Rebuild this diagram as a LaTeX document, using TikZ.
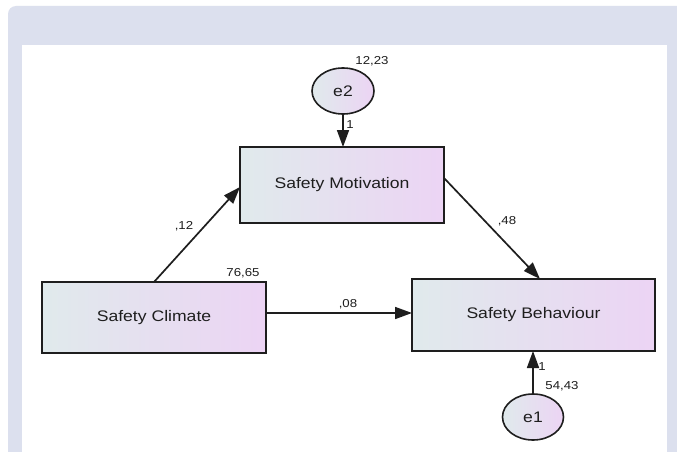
\documentclass[tikz,border=0pt]{standalone}
\usepackage{fontspec}
\setmainfont{Liberation Sans}[FakeStretch=1.15]
\usetikzlibrary{arrows.meta,shapes.geometric}
\definecolor{bgl}{RGB}{220,224,238}
\definecolor{gl}{RGB}{224,234,236}
\definecolor{gr}{RGB}{236,212,244}
\definecolor{ink}{RGB}{30,30,30}
\tikzset{
  box/.style={draw=ink, line width=1.6pt, shading angle=-60, left color=gl, right color=gr, inner sep=0pt, outer sep=0pt,
    font=\fontsize{15.3}{17}\selectfont, text=ink},
  err/.style={ellipse, draw=ink, line width=1.6pt, left color=gl, right color=gr, inner sep=0pt, outer sep=0pt,
    minimum width=62pt, minimum height=46pt, font=\fontsize{15.3}{17}\selectfont, text=ink},
  arr/.style={draw=ink, line width=1.7pt, -{Triangle[length=17pt,width=12pt]}},
  lab/.style={font=\fontsize{11.5}{13}\selectfont, text=ink, inner sep=0pt}
}
\begin{document}
\begin{tikzpicture}[x=1pt,y=-1pt]
\useasboundingbox (0,0) rectangle (677,452);
\fill[white] (0,0) rectangle (677,452);
\fill[bgl, rounded corners=8pt] (8,6) rectangle (700,470);
\fill[white] (22,45) rectangle (667,452);

\node[box, minimum width=204pt, minimum height=76pt] (SM) at (342,185) {Safety Motivation};
\node[box, minimum width=224pt, minimum height=71pt] (SC) at (154,317.5) {Safety Climate};
\node[box, minimum width=243pt, minimum height=72pt] (SB) at (533.5,315) {Safety Behaviour};
\node[err] (e2) at (343,91) {e2};
\node[err, minimum width=61pt] (e1) at (533,417) {e1};

\draw[arr] (e2.south) -- (e2.south |- SM.north);
\draw[arr] (e1.north) -- (e1.north |- SB.south);
\draw[arr] (SC.east |- 0,313) -- (SB.west |- 0,313);
\draw[arr] (SC.north) -- (SM.west |- 0,187);
\draw[arr] (SM.east |- 0,178) -- (SB.north -| 540,0);

\node[lab] (l1) at (372,61) {12,23};
\node[lab] (l2) at (350,125) {1};
\node[lab] (l3) at (184,226) {,12};
\node[lab] (l4) at (243,273) {76,65};
\node[lab] (l5) at (348,304) {,08};
\node[lab] (l6) at (507,221) {,48};
\node[lab] (l7) at (542,367) {1};
\node[lab] (l8) at (562,386) {54,43};
\end{tikzpicture}
\end{document}
